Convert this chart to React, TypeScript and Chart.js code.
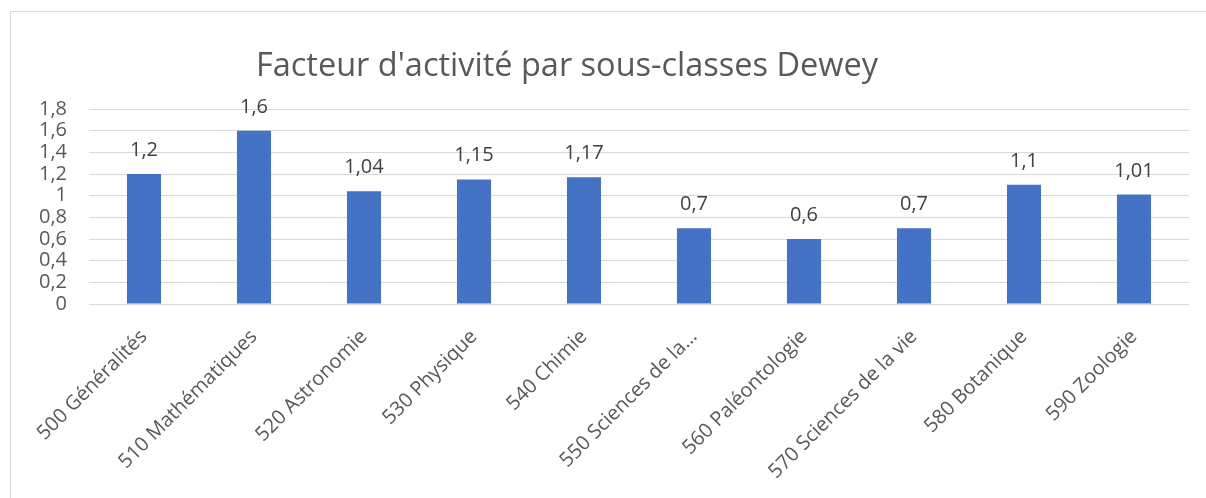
import React, { useEffect, useRef } from "react";
import { Chart, registerables } from "chart.js";

Chart.register(...registerables);

const TITLE = "Facteur d'activité par sous-classes Dewey";
const categories = [
  "500 Généralités",
  "510 Mathématiques",
  "520 Astronomie",
  "530 Physique",
  "540 Chimie",
  "550 Sciences de la…",
  "560 Paléontologie",
  "570 Sciences de la vie",
  "580 Botanique",
  "590 Zoologie",
];
const values = [1.2, 1.6, 1.04, 1.15, 1.17, 0.7, 0.6, 0.7, 1.1, 1.01];
const yMin = 0;
const yMax = 1.8;
const yStep = 0.2;

const FONT = "'Open Sans'";
const fmt = (v: number) => String(Math.round(v * 100) / 100).replace(".", ",");

const labelPlugin = {
  id: "valueLabels",
  afterDatasetsDraw(chart: any) {
    const ctx = chart.ctx;
    const meta = chart.getDatasetMeta(0);
    ctx.save();
    ctx.font = `20px ${FONT}`;
    ctx.fillStyle = "#404040";
    ctx.textAlign = "center";
    ctx.textBaseline = "alphabetic";
    meta.data.forEach((bar: any, i: number) => {
      ctx.fillText(fmt(values[i]), bar.x, bar.y - 18);
    });
    ctx.restore();
  },
};

const titlePlugin = {
  id: "customTitle",
  afterDraw(chart: any) {
    const ctx = chart.ctx;
    ctx.save();
    ctx.font = `32.5px ${FONT}`;
    ctx.fillStyle = "#595959";
    ctx.textAlign = "center";
    ctx.textBaseline = "alphabetic";
    ctx.fillText(TITLE, 567, 76);
    ctx.restore();
  },
};

export default function App() {
  const ref = useRef<HTMLCanvasElement>(null);
  useEffect(() => {
    if (!ref.current) return;
    const chart = new Chart(ref.current, {
      type: "bar",
      data: {
        labels: categories,
        datasets: [
          {
            data: values,
            backgroundColor: "#4472C4",
            borderWidth: 0,
            categoryPercentage: 1,
            barPercentage: 0.31,
          },
        ],
      },
      options: {
        animation: false,
        responsive: false,
        maintainAspectRatio: false,
        layout: { padding: { left: 0, right: 17, top: 109, bottom: 0 } },
        plugins: {
          legend: { display: false },
          title: { display: false },
          tooltip: { enabled: false },
        },
        scales: {
          x: {
            grid: { display: false },
            border: { display: false },
            ticks: {
              color: "#595959",
              font: { family: FONT, size: 20 },
              maxRotation: 45,
              minRotation: 45,
              autoSkip: false,
              padding: 13,
            },
            afterFit: (scale: any) => {
              scale.height = 194;
            },
          },
          y: {
            min: yMin,
            max: yMax,
            grid: { color: "#d9d9d9", lineWidth: 1, drawTicks: false },
            border: { display: false },
            ticks: {
              stepSize: yStep,
              autoSkip: false,
              color: "#595959",
              font: { family: FONT, size: 20 },
              padding: 22,
              callback: (v: any) => fmt(Number(v)),
            },
            afterFit: (scale: any) => {
              scale.width = 89;
            },
          },
        },
      },
      plugins: [labelPlugin, titlePlugin],
    });
    return () => chart.destroy();
  }, []);
  return (
    <div style={{ position: "fixed", left: 0, top: 0, width: 1206, height: 498, overflow: "hidden", background: "#fff" }}>
      <div
        style={{
          position: "absolute",
          left: 10,
          top: 11,
          width: 1300,
          height: 600,
          border: "1px solid #d9d9d9",
        }}
      />
      <canvas ref={ref} width={1206} height={498} style={{ position: "absolute", left: 0, top: 0 }} />
    </div>
  );
}
